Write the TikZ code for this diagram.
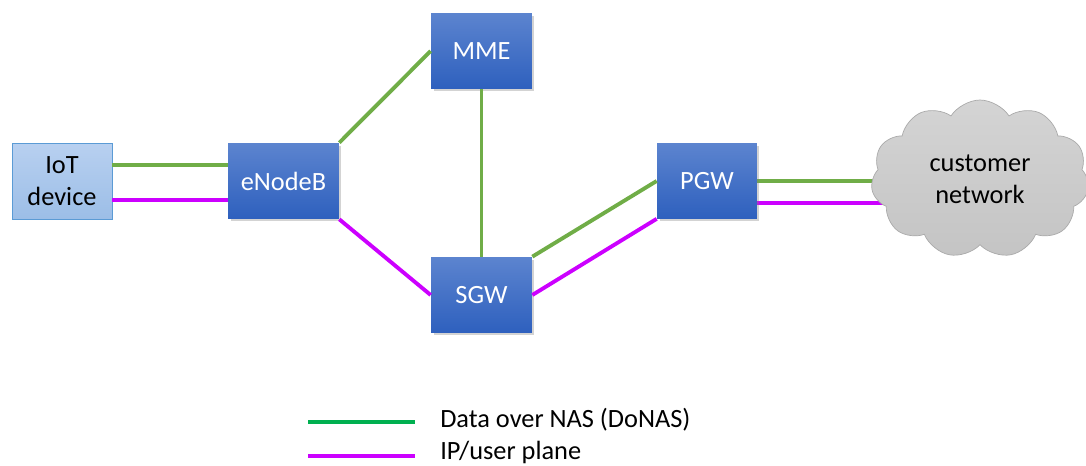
\documentclass[tikz,border=0pt]{standalone}
\usepackage{fontspec}
\setmainfont{Carlito}
\usetikzlibrary{shapes.symbols,shadows,backgrounds}
\definecolor{lgreen}{RGB}{112,173,71}
\definecolor{lmagenta}{RGB}{204,0,255}
\definecolor{keygreen}{RGB}{0,176,80}
\definecolor{boxtop}{RGB}{92,132,207}
\definecolor{boxbot}{RGB}{46,96,190}
\begin{document}
\begin{tikzpicture}[x=0.02cm,y=-0.02cm,
  font=\fontsize{15}{18}\selectfont,
  netbox/.style={top color=boxtop, bottom color=boxbot, text=white,
    minimum width=2.02cm, minimum height=1.52cm, inner sep=0pt,
    drop shadow={opacity=0.35, shadow xshift=0.05cm, shadow yshift=-0.05cm}},
  gline/.style={lgreen, line width=2.2pt},
  mline/.style={lmagenta, line width=2.2pt}]
\useasboundingbox (0,0) rectangle (1086,466);
% nodes
\node[top color={rgb,255:red,184;green,208;blue,240}, bottom color={rgb,255:red,156;green,190;blue,231},
  draw={rgb,255:red,91;green,155;blue,213}, minimum width=2cm, minimum height=1.52cm,
  align=center, inner sep=0pt] (iot) at (62,181) {IoT\\device};
\node[netbox, minimum width=2.22cm] (enb) at (283.5,181) {eNodeB};
\node[netbox] (mme) at (481.5,51) {MME};
\node[netbox] (sgw) at (481.5,295) {SGW};
\node[netbox, minimum width=2cm, minimum height=1.5cm] (pgw) at (707,181) {PGW};
\node[cloud, cloud puffs=11, cloud puff arc=115, aspect=1.3, draw={rgb,255:red,170;green,170;blue,170},
  top color={rgb,255:red,212;green,212;blue,212}, bottom color={rgb,255:red,196;green,196;blue,196},
  minimum width=4.36cm, minimum height=3.16cm, align=center, inner sep=0pt] (net) at (980,179) {customer\\network};
% links
\draw[gline] ([yshift=0.32cm]iot.east) -- ([yshift=0.32cm]enb.west);
\draw[mline] ([yshift=-0.38cm]iot.east) -- ([yshift=-0.38cm]enb.west);
\draw[gline] (enb.north east) -- (mme.west);
\draw[mline] (enb.south east) -- (sgw.west);
\draw[gline] (mme.south) -- (sgw.north);
\draw[gline] (sgw.north east) -- (pgw.west);
\draw[mline] (sgw.east) -- (pgw.south west);
\begin{pgfonlayer}{background}
\draw[gline] (pgw.east) -- (pgw.east -| net.center);
\draw[mline] ([yshift=-0.44cm]pgw.east) -- ([yshift=-0.44cm]pgw.east -| net.center);
\end{pgfonlayer}
% key
\coordinate (k1) at (308,422);
\coordinate (k2) at (308,456);
\draw[keygreen, line width=2.2pt] (k1) -- ++(107,0) node[right=0.35cm, black, yshift=0.04cm] (k1t) {Data over NAS (DoNAS)};
\draw[lmagenta, line width=2.2pt] (k2) -- ++(107,0) node[right=0.35cm, black, yshift=0.08cm] (k2t) {IP/user plane};
\end{tikzpicture}
\end{document}
